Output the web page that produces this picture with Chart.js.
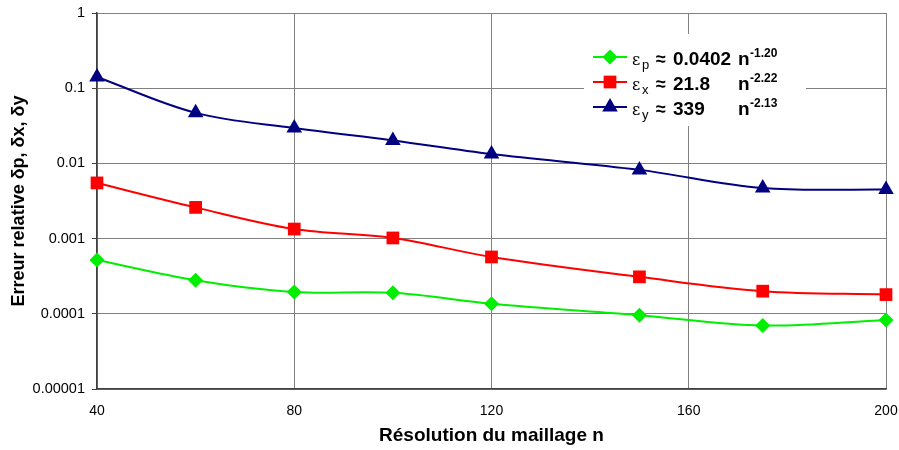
<!DOCTYPE html>
<html>
<head>
<meta charset="utf-8">
<script src="https://cdn.jsdelivr.net/npm/chart.js@4"></script>
<style>
  html, body { margin: 0; padding: 0; background: #fff; }
  #boite { width: 899px; height: 450px; }
</style>
</head>
<body>
<div id="boite"><canvas id="graphe"></canvas></div>
<script>
// résolution du maillage
const resolutions = [40, 60, 80, 100, 120, 150, 175, 200];
// erreurs relatives
const erreurP = [0.00052, 0.00028, 0.000195, 0.00019, 0.000136, 0.000096, 0.00007, 0.000083];
const erreurX = [0.0055, 0.0026, 0.00134, 0.00102, 0.00057, 0.00031, 0.0002, 0.00018];
const erreurY = [0.141, 0.047, 0.0295, 0.0202, 0.0133, 0.0082, 0.0047, 0.0045];
const ticksY = [0.00001, 0.0001, 0.001, 0.01, 0.1, 1];
const etiquettesY = ['0.00001', '0.0001', '0.001', '0.01', '0.1', '1'];
const ticksX = [40, 80, 120, 160, 200];
// légende : indice, coefficient, exposant
const legende = [
  { sub: 'p', coef: '0.0402', exp: '-1.20', couleur: '#00ee00', forme: 'rectRot', r: 7.5 },
  { sub: 'x', coef: '21.8', exp: '-2.22', couleur: '#ff0000', forme: 'rect', r: 9 },
  { sub: 'y', coef: '339', exp: '-2.13', couleur: '#000080', forme: 'triangle', r: 9 }
];

function points(vals) {
  return resolutions.map((n, i) => ({ x: n, y: vals[i] }));
}

function serie(vals, couleur, forme, rayon) {
  return {
    data: points(vals),
    borderColor: couleur,
    backgroundColor: couleur,
    borderWidth: 2,
    pointStyle: forme,
    pointRadius: rayon,
    pointHoverRadius: rayon,
    pointBorderWidth: 0,
    tension: 0.35,
    clip: false
  };
}

const pluginLegende = {
  id: 'legendeMaison',
  afterDraw(chart) {
    const ctx = chart.ctx;
    ctx.save();
    ctx.fillStyle = '#fff';
    ctx.fillRect(584, 34, 222, 92);
    let y0 = 57;
    legende.forEach((it, i) => {
      const y = y0 + i * 25;
      ctx.strokeStyle = it.couleur;
      ctx.lineWidth = 2;
      ctx.beginPath();
      ctx.moveTo(593, y);
      ctx.lineTo(627, y);
      ctx.stroke();
      ctx.fillStyle = it.couleur;
      Chart.helpers.drawPoint(ctx, { pointStyle: it.forme, radius: it.r, borderWidth: 0 }, 610, y);
      const base = y + 8;
      ctx.fillStyle = '#000';
      ctx.textBaseline = 'alphabetic';
      ctx.font = '16px "DejaVu Serif", serif';
      ctx.fillText('ε', 632, base);
      ctx.font = '13px "Liberation Sans", Arial, sans-serif';
      ctx.fillText(it.sub, 642, base + 4);
      ctx.font = 'bold 18px "Liberation Sans", Arial, sans-serif';
      ctx.fillText('≈', 656, base);
      ctx.font = 'bold 19px "Liberation Sans", Arial, sans-serif';
      ctx.fillText(it.coef, 673, base);
      ctx.fillText('n', 738, base);
      ctx.font = 'bold 12px "Liberation Sans", Arial, sans-serif';
      ctx.fillText(it.exp, 750, base - 8);
    });
    ctx.restore();
  }
};

new Chart(document.getElementById('graphe'), {
  type: 'line',
  data: {
    datasets: [
      serie(erreurP, '#00ee00', 'rectRot', 7.5),
      serie(erreurX, '#ff0000', 'rect', 9),
      serie(erreurY, '#000080', 'triangle', 9)
    ]
  },
  options: {
    responsive: true,
    maintainAspectRatio: false,
    animation: false,
    layout: { padding: { top: 13, right: 13, left: 0, bottom: 0 } },
    plugins: { legend: { display: false }, tooltip: { enabled: false } },
    scales: {
      x: {
        type: 'linear',
        min: 40,
        max: 200,
        afterFit: s => { s.height = 61; s.paddingLeft = 0; s.paddingRight = 0; },
        afterBuildTicks: s => { s.ticks = ticksX.map(v => ({ value: v })); },
        grid: { color: '#808080', lineWidth: 1, drawTicks: false },
        border: { color: '#404040', width: 1.5 },
        ticks: {
          padding: 14,
          color: '#000',
          font: { family: '"Liberation Sans Narrow", "Liberation Sans", Arial', size: 14 }
        },
        title: {
          display: true,
          text: 'Résolution du maillage n',
          color: '#000',
          padding: { top: 0, bottom: 3 },
          font: { family: '"Liberation Sans Narrow", "Liberation Sans", Arial', size: 19, weight: 'bold' }
        }
      },
      y: {
        type: 'logarithmic',
        min: 0.00001,
        max: 1,
        afterFit: s => { s.width = 97; s.paddingTop = 0; s.paddingBottom = 0; },
        afterBuildTicks: s => { s.ticks = ticksY.map(v => ({ value: v })); },
        grid: { color: '#808080', lineWidth: 1, tickLength: 5, tickColor: '#404040' },
        border: { color: '#404040', width: 1.5 },
        ticks: {
          padding: 7,
          color: '#000',
          font: { family: '"Liberation Sans", Arial', size: 14.5 },
          callback: v => { const k = ticksY.indexOf(v); return k >= 0 ? etiquettesY[k] : ''; }
        },
        title: {
          display: true,
          text: 'Erreur relative δp, δx, δy',
          color: '#000',
          padding: { top: 8, bottom: 0 },
          font: { family: '"Liberation Sans", Arial', size: 18, weight: 'bold' }
        }
      }
    }
  },
  plugins: [pluginLegende]
});
</script>
</body>
</html>
